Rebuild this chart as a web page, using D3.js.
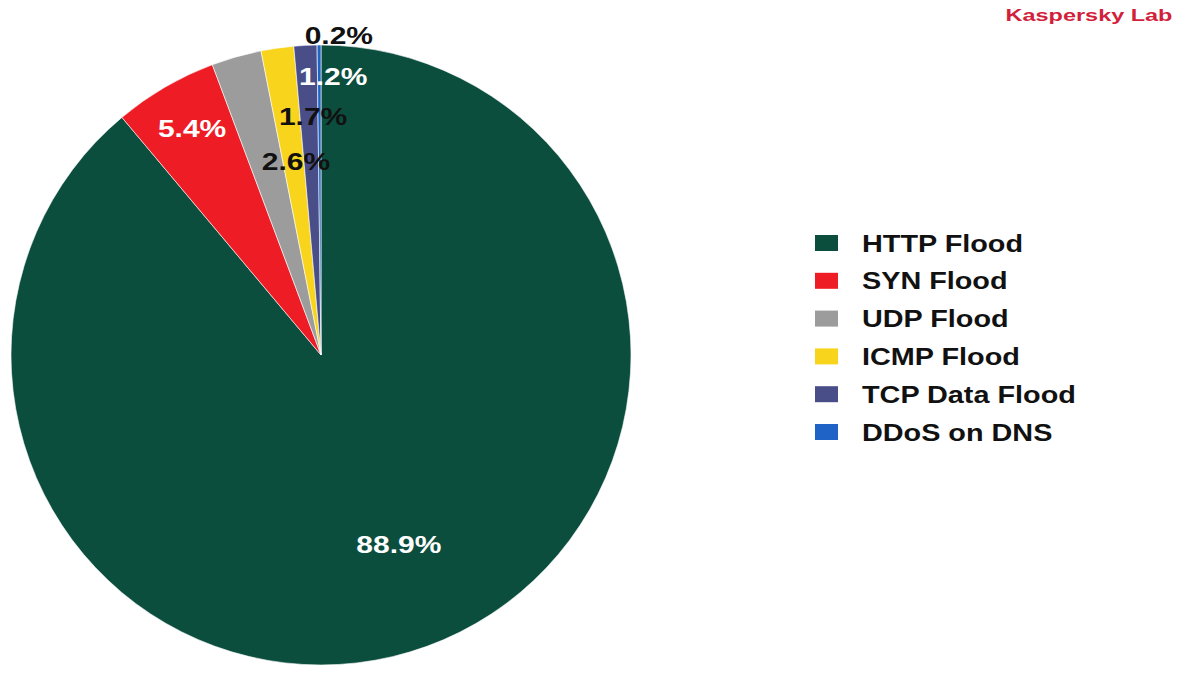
<!DOCTYPE html>
<html><head><meta charset="utf-8">
<script src="https://cdn.jsdelivr.net/npm/d3@7"></script>
<style>html,body{margin:0;padding:0;background:#fff;}svg{display:block;}</style>
</head><body>
<svg id="chart" width="1200" height="676"></svg>
<script>
const categories = ["HTTP Flood","SYN Flood","UDP Flood","ICMP Flood","TCP Data Flood","DDoS on DNS"];
const values = [88.9, 5.4, 2.6, 1.7, 1.2, 0.2];
const labels = ["88.9%","5.4%","2.6%","1.7%","1.2%","0.2%"];
const colors = ["#0b4e3e","#ee1c24","#9c9c9c","#f8d41c","#4a4e88","#1f63c6"];
const labelColors = ["#fff","#fff","#111","#111","#fff","#111"];
// label placement style: absolute angle (deg clockwise from top) and radius
const labelAngle = [157.7, 330.4, 352.6, 358.1, 2.5, 3.2];
const labelRadius = [205, 261, 195, 239, 279, 320];

const svg = d3.select("#chart");
const cx = 321, cy = 355, R = 310;

const pie = d3.pie().sort(null).value(d => d)(values);
const arc = d3.arc().innerRadius(0).outerRadius(R);
const g = svg.append("g").attr("transform", `translate(${cx},${cy})`);
g.selectAll("path").data(pie).join("path")
  .attr("d", arc)
  .attr("fill", (d,i) => colors[i])
  .attr("stroke", "#fff").attr("stroke-width", 0.6);

g.selectAll("text.lbl").data(pie).join("text")
  .attr("class","lbl")
  .attr("transform", (d,i) => {
    const a = labelAngle[i] * Math.PI/180;
    const x = Math.sin(a)*labelRadius[i], y = -Math.cos(a)*labelRadius[i];
    return `translate(${x},${y}) scale(1.25,1)`;
  })
  .attr("text-anchor","middle").attr("dy","0.36em")
  .attr("font-family","Liberation Sans, Arial, sans-serif")
  .attr("font-weight","bold").attr("font-size",24)
  .attr("fill",(d,i)=>labelColors[i])
  .text((d,i)=>labels[i]);

// legend
const ly = d3.scalePoint().domain(categories).range([243, 432]);
const lg = svg.append("g");
const rows = lg.selectAll("g").data(categories).join("g")
  .attr("transform", d => `translate(815,${ly(d)})`);
rows.append("rect").attr("x",0).attr("y",-8).attr("width",23).attr("height",16)
  .attr("fill",(d,i)=>colors[i]);
rows.append("text").attr("x",0).attr("y",0).attr("dy","0.36em")
  .attr("transform","translate(47,0) scale(1.2,1)")
  .attr("font-family","Liberation Sans, Arial, sans-serif")
  .attr("font-weight","bold").attr("font-size",24).attr("fill","#111")
  .text(d=>d);

svg.append("text")
  .attr("transform","translate(1089,15) scale(1.38,1)")
  .attr("text-anchor","middle").attr("dy","0.36em")
  .attr("font-family","Liberation Sans, Arial, sans-serif")
  .attr("font-weight","bold").attr("font-size",17).attr("fill","#d21f3c")
  .text("Kaspersky Lab");
</script>
</body></html>
